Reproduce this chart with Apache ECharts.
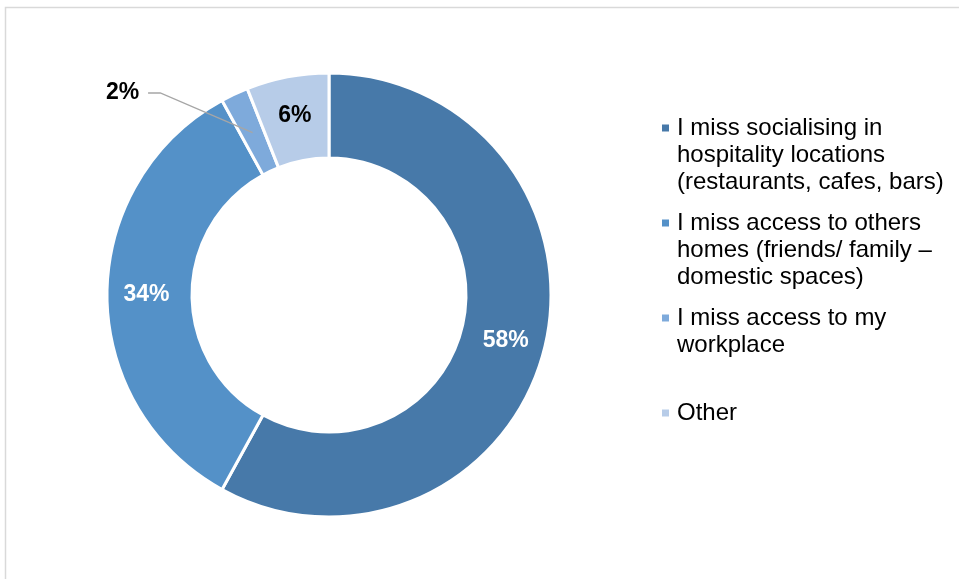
<!DOCTYPE html>
<html>
<head>
<meta charset="utf-8">
<script src="https://cdn.jsdelivr.net/npm/echarts@6/dist/echarts.min.js"></script>
<style>
  html, body { margin: 0; padding: 0; background: #fff; }
  #chart { width: 959px; height: 579px; }
</style>
</head>
<body>
<div id="chart"></div>
<script>
// Survey answers and their shares (%)
const categories = [
  'I miss socialising in\nhospitality locations\n(restaurants, cafes, bars)',
  'I miss access to others\nhomes (friends/ family \u2013\ndomestic spaces)',
  'I miss access to my\nworkplace',
  'Other'
];
const shares = [58, 34, 2, 6];
const sliceColors = ['#4779a9', '#5491c8', '#7eaadb', '#b7cce8'];
const labelColors = ['#ffffff', '#ffffff', '#000000', '#000000'];
const OUTSIDE_LABEL = 2; // slice whose label sits outside with a leader line

const FONT = '"Liberation Sans", Arial, sans-serif';
const chart = echarts.init(document.getElementById('chart'), null, { renderer: 'canvas' });

// Legend entries: square marker on the first line, following lines indented.
// Each entry is padded to three lines so the spacing stays even.
const richStyles = {
  t: { fontFamily: FONT, fontSize: 24, color: '#000', lineHeight: 27 },
  g: { width: 8, height: 7 },
  p: { width: 15, height: 7 }
};
sliceColors.forEach((c, i) => {
  richStyles['m' + i] = { width: 7, height: 7, backgroundColor: c };
});

function legendText(name) {
  const i = categories.indexOf(name);
  const lines = name.split('\n');
  const out = lines.map((ln, k) =>
    (k === 0 ? '{m' + i + '|}{g|}' : '{p|}') + '{t|' + ln + '}');
  if (i < categories.length - 1) {
    while (out.length < 3) out.push('{p|}{t| }');
  }
  return out.join('\n');
}

const pieData = categories.map((name, i) => {
  const item = {
    name: name,
    value: shares[i],
    itemStyle: { color: sliceColors[i] },
    label: { color: labelColors[i] }
  };
  if (i === OUTSIDE_LABEL) {
    item.label = { position: 'outside', color: labelColors[i] };
  }
  return item;
});

// Where the outside label and its leader line go, relative to the ring
function outsideGeometry(lay) {
  const mid = (lay.startAngle + lay.endAngle) / 2;
  const rm = (lay.r + lay.r0) / 2;
  const ly = lay.cy - 0.91 * lay.r;
  return {
    label: [lay.cx - 0.93 * lay.r, ly],
    line: [
      [lay.cx - 0.815 * lay.r, ly],
      [lay.cx - 0.76 * lay.r, ly],
      [lay.cx + rm * Math.cos(mid), lay.cy + rm * Math.sin(mid)]
    ]
  };
}

function sliceLayout(idx) {
  return chart.getModel().getSeriesByIndex(0).getData().getItemLayout(idx);
}

const option = {
  backgroundColor: '#ffffff',
  animation: false,
  graphic: [{
    id: 'frame',
    type: 'rect',
    shape: { x: 5.5, y: 7.5, width: 1200, height: 1200 },
    style: { fill: 'none', stroke: '#d9d9d9', lineWidth: 1.5 },
    silent: true
  }],
  legend: {
    orient: 'vertical',
    left: 652,
    top: 111,
    icon: 'none',
    itemWidth: 0,
    itemHeight: 7,
    itemGap: 17,
    selectedMode: false,
    data: categories,
    formatter: legendText,
    textStyle: { rich: richStyles, padding: 0 }
  },
  series: [{
    type: 'pie',
    center: [329, 295],
    radius: [137, 222],
    startAngle: 90,
    clockwise: true,
    avoidLabelOverlap: false,
    itemStyle: { borderColor: '#ffffff', borderWidth: 3 },
    label: {
      show: true,
      position: 'inside',
      formatter: p => p.value + '%',
      fontFamily: FONT,
      fontSize: 23,
      fontWeight: 'bold'
    },
    labelLine: { show: false },
    emphasis: { disabled: true },
    labelLayout: function (params) {
      if (params.dataIndex !== OUTSIDE_LABEL) return {};
      const g = outsideGeometry(sliceLayout(OUTSIDE_LABEL));
      return { x: g.label[0], y: g.label[1], align: 'center', verticalAlign: 'middle' };
    },
    data: pieData
  }]
};

chart.setOption(option);

// Leader line from the outside label into the middle of its slice
const geo = outsideGeometry(sliceLayout(OUTSIDE_LABEL));
chart.setOption({
  graphic: [{
    id: 'leader',
    type: 'polyline',
    shape: { points: geo.line },
    style: { fill: 'none', stroke: '#a6a6a6', lineWidth: 1.3 },
    z: 10,
    silent: true
  }]
});
</script>
</body>
</html>
